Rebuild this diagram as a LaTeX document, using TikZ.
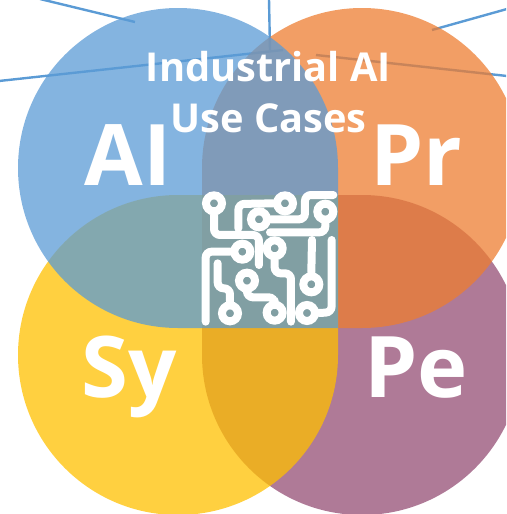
\documentclass[tikz,border=0pt]{standalone}
\usepackage{fontspec}
\setmainfont{Open Sans}
\tikzset{
  petal/.style={fill opacity=0.75,draw=none},
  ray/.style={draw=rayblue,line width=2.4pt},
  trace/.style={draw=white,line width=8pt,line cap=round,rounded corners=6pt},
  pad/.style={circle,draw=white,line width=8pt,minimum size=16pt,inner sep=0pt},
  bigtext/.style={text=white,font=\fontsize{85}{85}\selectfont\bfseries,inner sep=0pt,anchor=base},
  titletext/.style={text=white,font=\fontsize{39.8}{51}\selectfont\bfseries,align=center,inner sep=0pt}
}
\definecolor{rayblue}{HTML}{5B9BD5}
\definecolor{cblue}{HTML}{5B9BD5}
\definecolor{corange}{HTML}{ED7D31}
\definecolor{cyellow}{HTML}{FFC000}
\definecolor{cpurple}{HTML}{944D74}
\begin{document}
\begin{tikzpicture}[x=1pt,y=-1pt]
\useasboundingbox (0,0) rectangle (506,514);
\clip (0,0) rectangle (506,514);
\coordinate (r1a) at (135,22); \coordinate (r1b) at (40,-1);
\coordinate (r2a) at (270,50); \coordinate (r2b) at (269,-1);
\coordinate (r3a) at (283,50); \coordinate (r3b) at (-1,81);
\coordinate (r4a) at (432,30); \coordinate (r4b) at (507,9);
\coordinate (r5a) at (316,55); \coordinate (r5b) at (507,76);
\draw[ray] (r1a)--(r1b); \draw[ray] (r2a)--(r2b); \draw[ray] (r3a)--(r3b);
\draw[ray] (r4a)--(r4b); \draw[ray] (r5a)--(r5b);
\fill[cpurple,petal] (202,355) arc[start angle=180,end angle=-90,radius=160] -- (202,195) -- cycle;
\fill[corange,petal] (362,328) arc[start angle=90,end angle=-180,radius=160] -- (202,328) -- cycle;
\fill[cyellow,petal] (178,195) arc[start angle=-90,end angle=-360,radius=160] -- (338,195) -- cycle;
\fill[cblue,petal] (338,168) arc[start angle=0,end angle=-270,radius=160] -- (338,328) -- cycle;
\node[titletext] (title) at (268.5,92.5) {Industrial AI\\Use Cases};
\node[bigtext] (ai) at (128,185) {AI};
\node[bigtext] (pr) at (416,185) {Pr};
\node[bigtext] (sy) at (129,397) {Sy};
\node[bigtext] (pe) at (416,397) {Pe};
\begin{scope}[shift={(190,180)},x=0.3333pt,y=-0.3333pt]
\node[pad] (p1) at (72,70) {};
\node[pad] (p2) at (285,70) {};
\node[pad] (p3) at (207,118) {};
\node[pad] (p4) at (406,95) {};
\node[pad] (p5) at (157,215) {};
\node[pad] (p6) at (254,205) {};
\node[pad] (p7) at (364,313) {};
\node[pad] (p8) at (351,399) {};
\node[pad] (p9) at (120,400) {};
\node[pad] (p10) at (171,302) {};
\node[pad] (p11) at (254,398) {};
\draw[trace] (p1.south) -- (72,165) -- (207,165) -- (207,255);
\draw[trace] (145,145) -- (145,72) -- (p2.west);
\draw[trace] (p3.east) -- (345,118) -- (345,45) -- (430,45);
\draw[trace] (p4.south) -- (406,157) -- (240,157);
\draw[trace] (p5.west) -- (47,215) -- (47,425);
\draw[trace] (p6.south) -- (254,280) -- (303,280) -- (303,425);
\draw[trace] (366,180) -- (p7.north);
\draw[trace] (425,180) -- (425,397) -- (p8.east);
\draw[trace] (83,250) -- (83,325) -- (120,325) -- (p9.north);
\draw[trace] (p10.south) -- (171,352) -- (254,352) -- (p11.north);
\end{scope}
\end{tikzpicture}
\end{document}
